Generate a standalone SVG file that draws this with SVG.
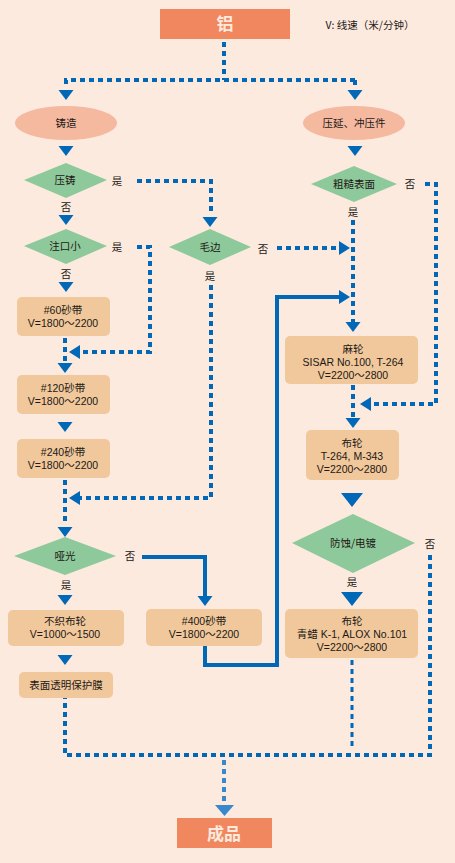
<svg xmlns="http://www.w3.org/2000/svg" xmlns:xlink="http://www.w3.org/1999/xlink" width="455" height="863" viewBox="0 0 455 863">
<defs>
<style>
.t{font-family:"Liberation Sans","Noto Sans CJK SC",sans-serif;font-size:10.5px;fill:#231815;text-anchor:middle}
.lbl{font-family:"Noto Sans CJK SC","Liberation Sans",sans-serif;font-size:10.5px;fill:#231815;text-anchor:middle}
.big{font-family:"Noto Sans CJK SC",sans-serif;font-size:17px;font-weight:bold;fill:#FCEADF;text-anchor:middle}
.term{fill:#F0875E}
.ell{fill:#F5B9A0}
.dia{fill:#8DC99A}
.box{fill:#F0C89C}
.dot{fill:none;stroke:#0068B7;stroke-width:4;stroke-dasharray:5 4}
.dot2{fill:none;stroke:#0068B7;stroke-width:3;stroke-dasharray:5 4}
.sol{fill:none;stroke:#0068B7;stroke-width:4}
.ar{fill:#0068B7}
</style>
<path id="dn" d="M-7.5,0 L7.5,0 L0,10 Z"/>
<path id="dnL" d="M-11,0 L11,0 L0,14 Z"/>
<path id="lt" d="M0,0 L11,-7 L11,7 Z"/>
<path id="rt" d="M0,0 L-11,-7 L-11,7 Z"/>
</defs>
<rect width="455" height="863" fill="#FCEADF"/>

<g id="connectors">
<path class="dot" d="M224,42 V80 M355,80 H66 V88"/>
<path class="dot" d="M355,80 V88"/>
<use href="#dn" class="ar" x="66" y="90"/>
<use href="#dn" class="ar" x="355" y="90"/>
<use href="#dn" class="ar" x="66" y="146"/>
<use href="#dn" class="ar" x="355" y="146"/>
<path class="dot" d="M137,181 H211 V215"/>
<use href="#dn" class="ar" x="210" y="217"/>
<use href="#dn" class="ar" x="66" y="215"/>
<path class="dot" d="M137,247 H150 V352 H80"/>
<use href="#lt" class="ar" x="69" y="352"/>
<use href="#dn" class="ar" x="66" y="282"/>
<path class="dot" d="M65,338 V362"/>
<use href="#dn" class="ar" x="65" y="363"/>
<use href="#dn" class="ar" x="65" y="422"/>
<path class="dot" d="M65,480 V525"/>
<path class="dot" d="M211,285 V498 H80"/>
<use href="#lt" class="ar" x="69" y="498"/>
<use href="#dn" class="ar" x="65" y="527"/>
<path class="sol" d="M142,557 H205 V598"/>
<use href="#dn" class="ar" x="205" y="596"/>
<use href="#dn" class="ar" x="65" y="595"/>
<use href="#dn" class="ar" x="65" y="655"/>
<path class="sol" d="M205,646 V665 H277 V297 H340"/>
<use href="#rt" class="ar" x="350" y="297"/>
<path class="dot" d="M277,248 H340"/>
<use href="#rt" class="ar" x="350" y="248"/>
<path class="dot" d="M425,184 H436 V404 H370"/>
<use href="#lt" class="ar" x="360" y="404"/>
<path class="dot" d="M353,220 V322"/>
<use href="#dn" class="ar" x="353" y="322"/>
<path class="dot" d="M353,385 V418"/>
<use href="#dn" class="ar" x="353" y="418"/>
<use href="#dnL" class="ar" x="352" y="493"/>
<use href="#dnL" class="ar" x="352" y="592"/>
<path class="dot" d="M430,555 V755 H65 V698"/>
<path class="dot2" d="M352,660 V750"/>
<path d="M224,760 V803" fill="none" stroke="#3A88CC" stroke-width="4" stroke-dasharray="5 4"/>
<path d="M215,805 L234,805 L224.5,816 Z" fill="#3A88CC"/>
</g>

<g id="n-al"><rect class="term" x="160" y="9" width="130" height="30"/><text class="big" x="225" y="30">铝</text></g>
<g id="legend"><text class="lbl" x="370" y="29">V: 线速（米/分钟）</text></g>
<g id="n-cast"><ellipse class="ell" cx="66" cy="123" rx="51" ry="17"/><text class="lbl" x="66" y="127">铸造</text></g>
<g id="n-roll"><ellipse class="ell" cx="354" cy="123" rx="51" ry="17"/><text class="lbl" x="354" y="127">压延、冲压件</text></g>
<g id="n-diecast"><path class="dia" d="M24,180 L66,163 L107,180 L66,198 Z"/><text class="lbl" x="65" y="184">压铸</text><text class="lbl" x="117" y="185">是</text><text class="lbl" x="66" y="211">否</text></g>
<g id="n-gate"><path class="dia" d="M24,246 L66,229 L107,246 L66,264 Z"/><text class="lbl" x="65" y="250">注口小</text><text class="lbl" x="117" y="251">是</text><text class="lbl" x="66" y="278">否</text></g>
<g id="n-burr"><path class="dia" d="M169,247 L210,229 L251,247 L210,265 Z"/><text class="lbl" x="210" y="251">毛边</text><text class="lbl" x="263" y="253">否</text><text class="lbl" x="210" y="280">是</text></g>
<g id="n-rough"><path class="dia" d="M311,184 L354,166 L397,184 L354,202 Z"/><text class="lbl" x="354" y="188">粗糙表面</text><text class="lbl" x="410" y="188">否</text><text class="lbl" x="353" y="216">是</text></g>
<g id="n-60"><rect class="box" x="17" y="297" width="93" height="39" rx="5"/><text class="t" x="63" y="314">#60砂带</text><text class="t" x="63" y="327">V=1800～2200</text></g>
<g id="n-120"><rect class="box" x="17" y="375" width="93" height="39" rx="5"/><text class="t" x="63" y="392">#120砂带</text><text class="t" x="63" y="405">V=1800～2200</text></g>
<g id="n-240"><rect class="box" x="17" y="439" width="93" height="39" rx="5"/><text class="t" x="63" y="456">#240砂带</text><text class="t" x="63" y="469">V=1800～2200</text></g>
<g id="n-matte"><path class="dia" d="M14,556 L65,537 L116,556 L65,575 Z"/><text class="lbl" x="65" y="560">哑光</text><text class="lbl" x="130" y="560">否</text><text class="lbl" x="66" y="589">是</text></g>
<g id="n-nonwoven"><rect class="box" x="8" y="610" width="116" height="36" rx="5"/><text class="t" x="65" y="625">不织布轮</text><text class="t" x="65" y="638">V=1000～1500</text></g>
<g id="n-film"><rect class="box" x="19" y="672" width="94" height="26" rx="5"/><text class="lbl" x="66" y="689">表面透明保护膜</text></g>
<g id="n-400"><rect class="box" x="146" y="609" width="116" height="37" rx="5"/><text class="t" x="204" y="625">#400砂带</text><text class="t" x="204" y="638">V=1800～2200</text></g>
<g id="n-sisal"><rect class="box" x="285" y="336" width="133" height="48" rx="5"/><text class="t" x="353" y="353">麻轮</text><text class="t" x="353" y="366">SISAR No.100, T-264</text><text class="t" x="353" y="379">V=2200～2800</text></g>
<g id="n-cloth1"><rect class="box" x="306" y="430" width="93" height="50" rx="5"/><text class="t" x="352" y="447">布轮</text><text class="t" x="352" y="460">T-264, M-343</text><text class="t" x="352" y="473">V=2200～2800</text></g>
<g id="n-plate"><path class="dia" d="M292,543 L353,514 L415,543 L353,573 Z"/><text class="lbl" x="353" y="547">防蚀/电镀</text><text class="lbl" x="430" y="548">否</text><text class="lbl" x="352" y="586">是</text></g>
<g id="n-cloth2"><rect class="box" x="285" y="609" width="133" height="49" rx="5"/><text class="t" x="352" y="625">布轮</text><text class="t" x="352" y="638">青蜡 K-1, ALOX No.101</text><text class="t" x="352" y="651">V=2200～2800</text></g>
<g id="n-product"><rect class="term" x="177" y="818" width="95" height="30"/><text class="big" x="224" y="840">成品</text></g>
</svg>
